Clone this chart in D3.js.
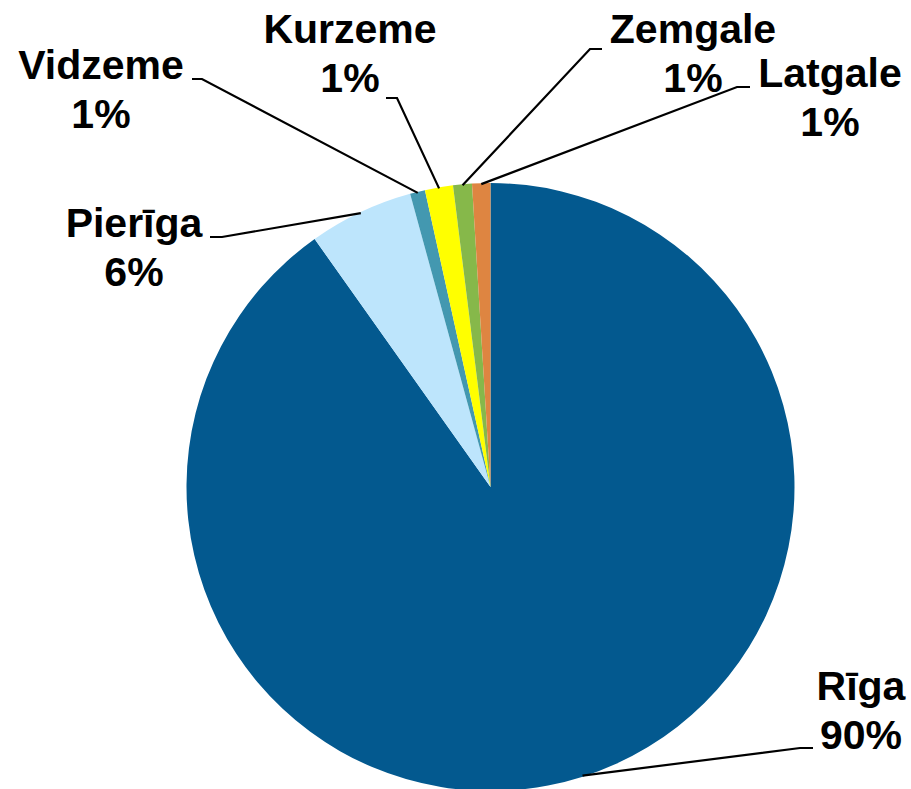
<!DOCTYPE html>
<html>
<head>
<meta charset="utf-8">
<script src="https://cdn.jsdelivr.net/npm/d3@7"></script>
<style>
  body { margin: 0; background: #fff; }
  svg { display: block; }
</style>
</head>
<body>
<script>
// data
var regions = ["Rīga", "Pierīga", "Vidzeme", "Kurzeme", "Zemgale", "Latgale"];
var shares = [90.2, 5.56, 0.8, 1.49, 1.0, 0.97];
var shareLabels = ["90%", "6%", "1%", "1%", "1%", "1%"];

var colors = ["#03598F", "#BDE5FC", "#4398B0", "#FFFF00", "#86B84A", "#DE8541"];

// label placement (text centre x, first baseline y, elbow x, elbow end x)
var labelLayout = [
  {x: 861, y: 700, ex: 800, ex2: 813, ey: 748},
  {x: 134, y: 237, ex: 222, ex2: 210, ey: 237},
  {x: 101, y: 79, ex: 202, ex2: 192, ey: 79},
  {x: 350, y: 43, ex: 397, ex2: 386, ey: 98},
  {x: 693, y: 43, ex: 590, ex2: 602, ey: 49},
  {x: 830, y: 87, ex: 737, ex2: 750, ey: 87}
];

var width = 911, height = 789;
var cx = 490.5, cy = 487, radius = 304;

var svg = d3.select("body").append("svg")
  .attr("width", width)
  .attr("height", height);

var pie = d3.pie().sort(null).value(function(d){return d;});
var arcs = pie(shares);
var arc = d3.arc().innerRadius(0).outerRadius(radius);

var g = svg.append("g").attr("transform", "translate(" + cx + "," + cy + ")");

g.selectAll("path.slice")
  .data(arcs)
  .enter()
  .append("path")
  .attr("class", "slice")
  .attr("d", arc)
  .style("fill", function(d, i){return colors[i];})
  .style("stroke", "none");

/*
Leader lines: from the rim at the middle of the slice, to an elbow, then a short horizontal tick.
*/
var lines = svg.selectAll("path.leader")
  .data(arcs)
  .enter()
  .append("path")
  .attr("class", "leader")
  .attr("d", function(d, i){
    var a = (d.startAngle + d.endAngle) / 2;
    var r = radius - 1;
    var px = cx + r * Math.sin(a), py = cy - r * Math.cos(a);
    var L = labelLayout[i];
    return "M" + px + "," + py + "L" + L.ex + "," + L.ey + "L" + L.ex2 + "," + L.ey;
  })
  .style("fill", "none")
  .style("stroke", "black")
  .style("stroke-width", 2.2);

var labels = svg.selectAll("text.lbl")
  .data(regions)
  .enter()
  .append("text")
  .attr("class", "lbl")
  .attr("text-anchor", "middle")
  .style("font-family", "'Liberation Sans', Arial, sans-serif")
  .style("font-weight", "bold")
  .style("font-size", "41px")
  .style("fill", "black");

labels.append("tspan")
  .attr("x", function(d, i){return labelLayout[i].x;})
  .attr("y", function(d, i){return labelLayout[i].y;})
  .text(function(d){return d;});

labels.append("tspan")
  .attr("x", function(d, i){return labelLayout[i].x;})
  .attr("y", function(d, i){return labelLayout[i].y + 49;})
  .text(function(d, i){return shareLabels[i];});
</script>
</body>
</html>
